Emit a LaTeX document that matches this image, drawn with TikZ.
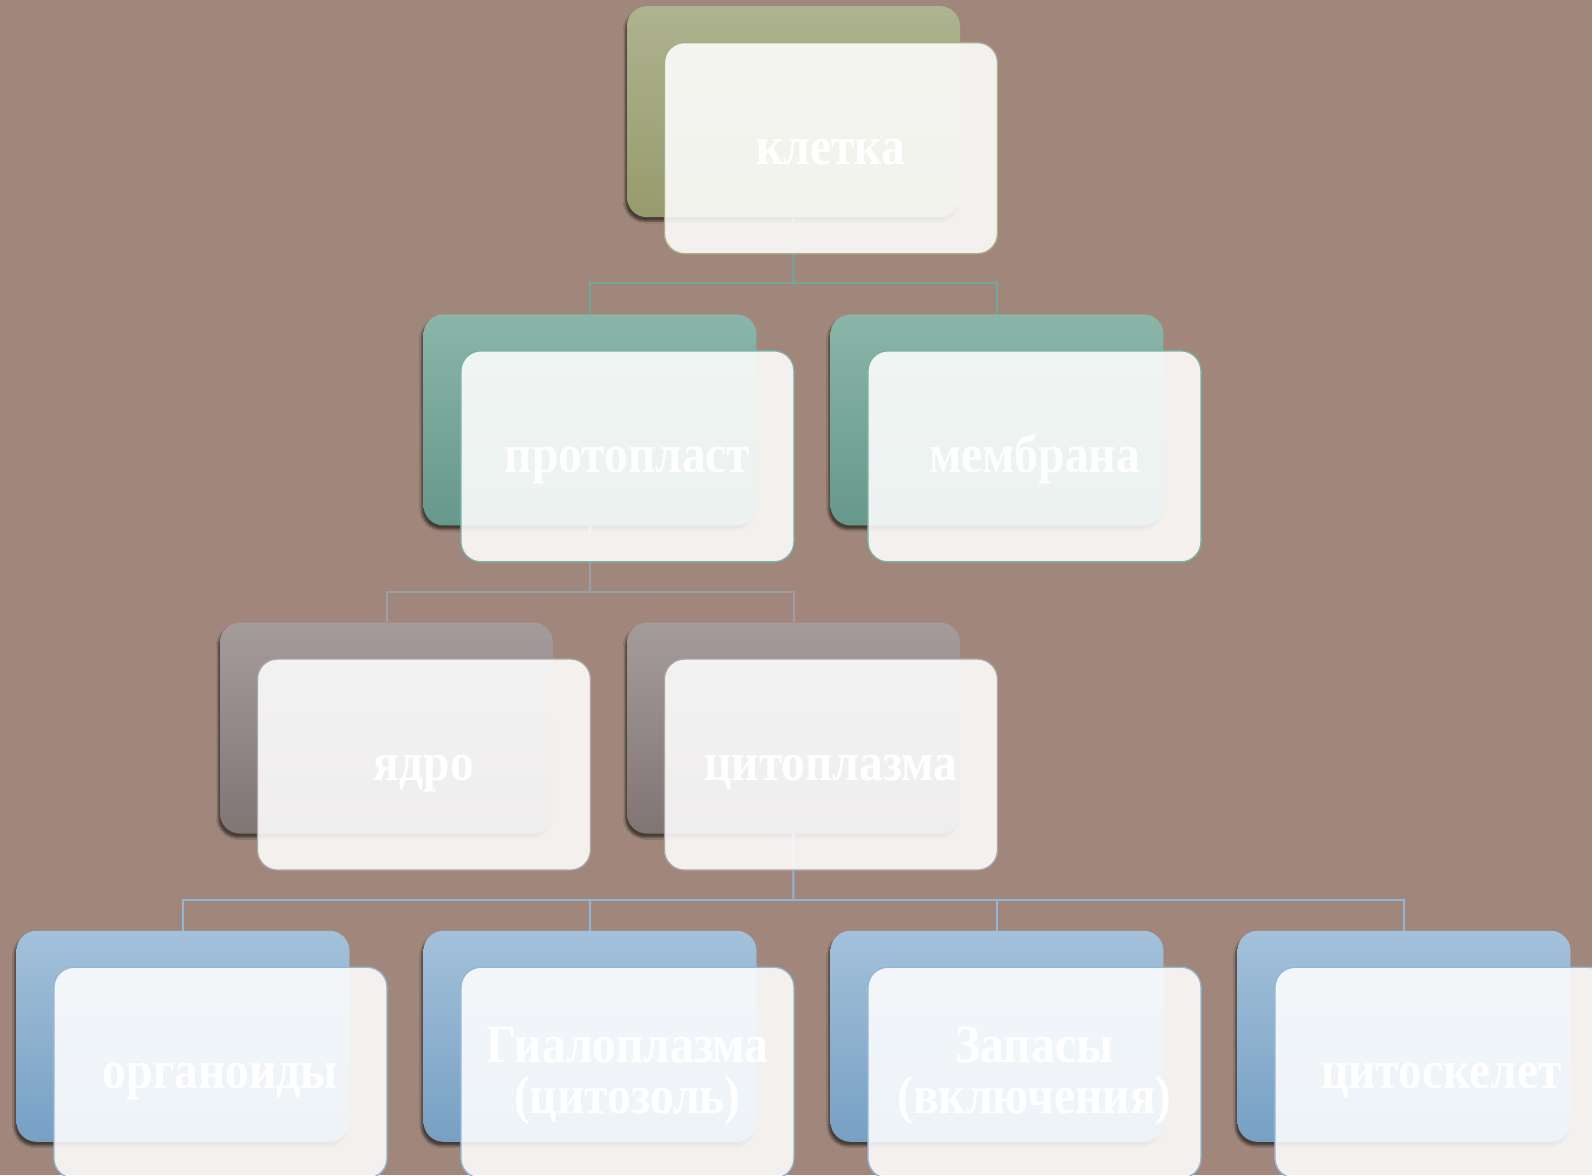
\documentclass[tikz,border=0pt]{standalone}
\usepackage{fontspec}
\setmainfont{Liberation Serif}
\newfontfamily\boxfont[FakeStretch=0.88]{Liberation Serif}
\usetikzlibrary{shadows.blur}
\definecolor{bgc}{HTML}{A1877B}
\definecolor{oliveT}{HTML}{AEB390}
\definecolor{oliveB}{HTML}{979B6C}
\definecolor{oliveL}{HTML}{A9AE88}
\definecolor{tealT}{HTML}{8BB5A9}
\definecolor{tealB}{HTML}{66988B}
\definecolor{tealL}{HTML}{7CB0A3}
\definecolor{greyT}{HTML}{A49C9B}
\definecolor{greyB}{HTML}{817574}
\definecolor{greyL}{HTML}{ADA5A5}
\definecolor{blueT}{HTML}{A3C1DB}
\definecolor{blueB}{HTML}{77A0C3}
\definecolor{blueL}{HTML}{92B6D5}
\definecolor{connA}{HTML}{6FA89C}
\definecolor{connB}{HTML}{9C9EA6}
\definecolor{connC}{HTML}{8FB7DA}
\newcommand\oneline[1]{\raisebox{-16pt}[0pt][0pt]{#1}}
\newcommand\twolines[1]{\raisebox{-41pt}[0pt][0pt]{\parbox[b]{330pt}{\centering #1}}}
\tikzset{
  backbox/.style 2 args={rounded corners=20pt, minimum width=333pt, minimum height=211pt,
    anchor=north west, inner sep=0pt, top color=#1, bottom color=#2, draw=none,
    blur shadow={shadow xshift=-2pt, shadow yshift=-4pt, shadow blur steps=6, shadow opacity=55}},
  frontbox/.style={rounded corners=20pt, minimum width=333pt, minimum height=211pt,
    anchor=north west, inner sep=0pt, fill=white, fill opacity=0.88, text opacity=1,
    draw=#1, line width=1.3pt, text=white, align=center,
    font=\boxfont\bfseries\fontsize{54}{51}\selectfont},
  conn/.style={draw=#1, line width=2pt}
}
\begin{document}
\begin{tikzpicture}[x=1pt,y=-1pt]
\useasboundingbox (0,0) rectangle (1592,1175);
\clip (0,0) rectangle (1592,1175);
\fill[bgc] (0,0) rectangle (1592,1175);
% back boxes
\node[backbox={oliveT}{oliveB}] (klb) at (626.8,6) {};
\node[backbox={tealT}{tealB}] (ppb) at (423.3,314.2) {};
\node[backbox={tealT}{tealB}] (mbb) at (830.3,314.2) {};
\node[backbox={greyT}{greyB}] (jab) at (219.8,622.4) {};
\node[backbox={greyT}{greyB}] (cpb) at (626.8,622.4) {};
\node[backbox={blueT}{blueB}] (orb) at (16.3,930.6) {};
\node[backbox={blueT}{blueB}] (gib) at (423.3,930.6) {};
\node[backbox={blueT}{blueB}] (zab) at (830.3,930.6) {};
\node[backbox={blueT}{blueB}] (csb) at (1237.3,930.6) {};
% connectors
\coordinate (j1) at (793.3,283);
\coordinate (j2) at (589.8,591.7);
\coordinate (j3) at (793.3,899.5);
\draw[conn=connA] (klb.south) -- (j1);
\draw[conn=connA] (ppb.north) |- (j1) -| (mbb.north);
\draw[conn=connB] (ppb.south) -- (j2);
\draw[conn=connB] (jab.north) |- (j2) -| (cpb.north);
\draw[conn=connC] (cpb.south) -- (j3);
\draw[conn=connC] (orb.north) |- (j3) -| (csb.north);
\draw[conn=connC] (gib.north) -- (gib.north |- j3);
\draw[conn=connC] (zab.north) -- (zab.north |- j3);
% front boxes
\node[frontbox=oliveL] (kl) at (663.8,42) {\oneline{клетка}};
\node[frontbox=tealL] (pp) at (460.3,350.2) {\oneline{протопласт}};
\node[frontbox=tealL] (mb) at (867.3,350.2) {\oneline{мембрана}};
\node[frontbox=greyL] (ja) at (256.8,658.4) {\oneline{ядро}};
\node[frontbox=greyL] (cp) at (663.8,658.4) {\oneline{цитоплазма}};
\node[frontbox=blueL] (or) at (53.3,966.6) {\oneline{органоиды}};
\node[frontbox=blueL] (gi) at (460.3,966.6) {\twolines{Гиалоплазма\\(цитозоль)}};
\node[frontbox=blueL] (za) at (867.3,966.6) {\twolines{Запасы\\(включения)}};
\node[frontbox=blueL] (cs) at (1274.3,966.6) {\oneline{цитоскелет}};
\end{tikzpicture}
\end{document}
